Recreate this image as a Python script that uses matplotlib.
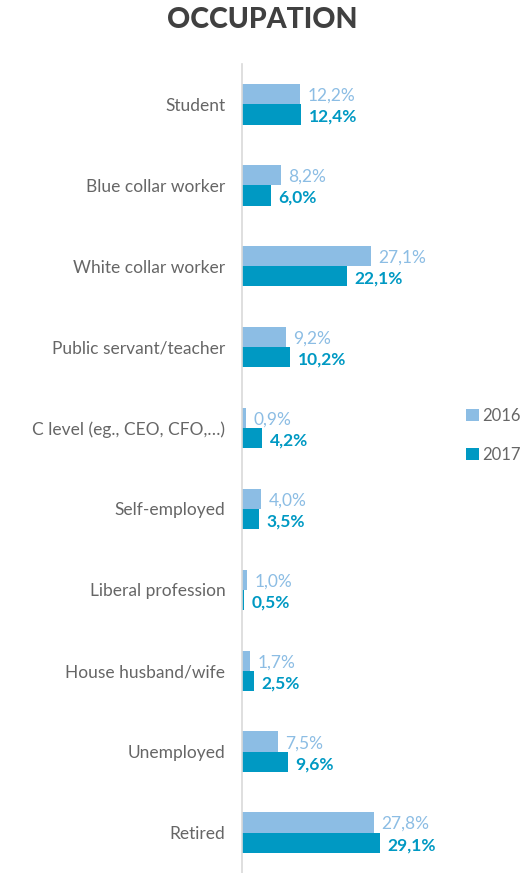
import matplotlib.pyplot as plt
import numpy as np

categories = ['Student', 'Blue collar worker', 'White collar worker', 'Public servant/teacher',
              'C level (eg., CEO, CFO,…)', 'Self-employed', 'Liberal profession',
              'House husband/wife', 'Unemployed', 'Retired']
vals_2016 = [12.2, 8.2, 27.1, 9.2, 0.9, 4.0, 1.0, 1.7, 7.5, 27.8]
vals_2017 = [12.4, 6.0, 22.1, 10.2, 4.2, 3.5, 0.5, 2.5, 9.6, 29.1]
series_names = ['2016', '2017']

c16 = '#8CBDE4'
c17 = '#0099C3'
grey = '#666666'

plt.rcParams['font.family'] = ['Lato', 'DejaVu Sans']

fig = plt.figure(figsize=(5.24, 8.73), dpi=100)
ax = fig.add_axes([242 / 524, 0.0, 1 - 242 / 524, 1 - 64 / 873])

y = np.arange(len(categories))
h = 0.25
ax.barh(y - h / 2, vals_2016, height=h, color=c16, label=series_names[0])
ax.barh(y + h / 2, vals_2017, height=h, color=c17, label=series_names[1])

for i in range(len(categories)):
    ax.text(vals_2016[i] + 1.6, y[i] - h / 2 + 0.02, f'{vals_2016[i]:.1f}%'.replace('.', ','),
            color=c16, fontsize=12.5, va='center', ha='left')
    ax.text(vals_2017[i] + 1.6, y[i] + h / 2 + 0.03, f'{vals_2017[i]:.1f}%'.replace('.', ','),
            color=c17, fontsize=12.5, va='center', ha='left', fontweight='bold')

ax.set_xlim(0, (524 - 242) / 4.75)
ax.set_ylim(len(categories) - 0.5, -0.5)
ax.set_yticks(y)
ax.set_yticklabels(categories, fontsize=12.5, color=grey)
ax.tick_params(axis='y', length=0, pad=12)
ax.set_xticks([])
for s in ['top', 'right', 'bottom']:
    ax.spines[s].set_visible(False)
ax.spines['left'].set_color('#d9d9d9')
ax.spines['left'].set_linewidth(1.2)

ax.legend(loc='upper left', bbox_to_anchor=(466 / 524, 1 - 408 / 873),
          bbox_transform=fig.transFigure, frameon=False, borderpad=0, borderaxespad=0,
          fontsize=12, labelcolor=grey, handlelength=0.75, handleheight=0.75,
          handletextpad=0.25, labelspacing=1.35)

fig.text(0.5, 0.977, 'OCCUPATION', ha='center', va='center', fontsize=20.5,
         fontweight='black', color='#404040')

fig.savefig('out.png', dpi=100)
